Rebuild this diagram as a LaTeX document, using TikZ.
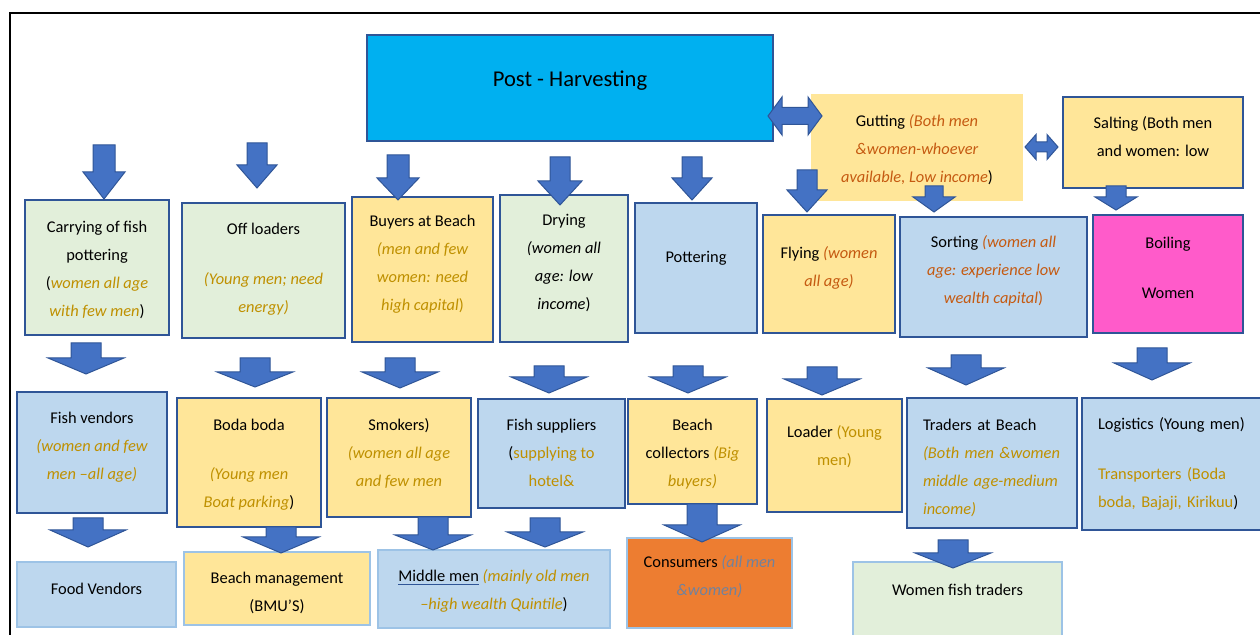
\documentclass[tikz,border=0pt]{standalone}
\usepackage{fontspec}
\setmainfont{Carlito}
\usepackage{tikz}
\usetikzlibrary{fit}

\definecolor{edgeblue}{HTML}{2F5597}
\definecolor{arrowblue}{HTML}{4472C4}
\definecolor{cyanfill}{HTML}{00B0F0}
\definecolor{greenfill}{HTML}{E2EFDA}
\definecolor{bluefill}{HTML}{BDD7EE}
\definecolor{yellowfill}{HTML}{FFE699}
\definecolor{pinkfill}{HTML}{FF5BCA}
\definecolor{orangefill}{HTML}{ED7D31}
\definecolor{lightedge}{HTML}{9DC3E6}
\definecolor{gold}{HTML}{BF9000}
\definecolor{rust}{HTML}{C55A11}
\definecolor{slate}{HTML}{71829D}

% text colours used in the boxes
\newcommand{\gi}[1]{{\itshape\color{gold}#1}}
\newcommand{\gu}[1]{{\color{gold}#1}}
\newcommand{\ri}[1]{{\itshape\color{rust}#1}}
\newcommand{\si}[1]{{\itshape\color{slate}#1}}
\newcommand{\ul}[1]{{\color{edgeblue}\underline{\color{black}#1}}}
% nudging text inside a box
\newcommand{\dn}[1]{\mbox{}\\[#1]}
\newcommand{\rise}[2]{\raisebox{#1}[\height][\depth]{#2}}

% block arrows: x, top, head start, tip, shaft width, head width
\newcommand{\dnblock}[6]{\filldraw[blockarrow] ({#1-#5/2},#2) -- ({#1+#5/2},#2) -- ({#1+#5/2},#3) -- ({#1+#6/2},#3) -- (#1,#4) -- ({#1-#6/2},#3) -- ({#1-#5/2},#3) -- cycle;}
% left, right, mid y, shaft height, head height, head length
\newcommand{\lrblock}[6]{\filldraw[blockarrow] (#1,#3) -- ({#1+#6},{#3-#5/2}) -- ({#1+#6},{#3-#4/2}) -- ({#2-#6},{#3-#4/2}) -- ({#2-#6},{#3-#5/2}) -- (#2,#3) -- ({#2-#6},{#3+#5/2}) -- ({#2-#6},{#3+#4/2}) -- ({#1+#6},{#3+#4/2}) -- ({#1+#6},{#3+#5/2}) -- cycle;}

\begin{document}
\begin{tikzpicture}[x=0.5pt, y=-0.5pt, font=\fontsize{8.2}{14}\selectfont,
  cell/.style={draw=edgeblue, line width=1.4pt, inner sep=0pt, align=center},
  softcell/.style={draw=lightedge, line width=0.8pt, inner sep=0pt, align=center},
  leftcell/.style={cell, inner xsep=8pt},
  blockarrow/.style={fill=arrowblue, draw=edgeblue, line width=0.5pt}]
  \useasboundingbox (0,0) rectangle (1260,635);
  \clip (0,0) rectangle (1260,635);
  \draw[line width=1pt] (10,13) rectangle (1280,650);

  % top
  \node[cell, fill=cyanfill, fit={(367,35)(773,141)}, font=\fontsize{11.3}{14}\selectfont] (post) {Post - Harvesting};
  \node[cell, draw=yellowfill, fill=yellowfill, fit={(812,95)(1022,200)}] (gutting) {\dn{-6pt}Gutting \ri{(Both men}\\\ri{\&women-whoever}\\\ri{available, Low income})};
  \node[cell, fill=yellowfill, fit={(1063,97)(1243,188)}] (salting) {Salting (Both men\\and women: low};

  % first row
  \node[cell, fill=greenfill, fit={(25,200)(169,335)}] (carry) {\dn{-6pt}Carrying of fish\\pottering\\(\gi{women all age}\\\gi{with few men})};
  \node[cell, fill=greenfill, fit={(182,203)(345,338)}] (offload) {\dn{-10pt}Off loaders\\[11pt]\gi{(Young men; need}\\\gi{energy)}};
  \node[cell, fill=yellowfill, fit={(352,197)(493,342)}] (buyers) {Buyers at Beach\\\gi{(men and few}\\\gi{women: need}\\\gi{high capital}\gu{)}};
  \node[cell, fill=greenfill, fit={(500,195)(628,342)}] (drying) {Drying\\\textit{(women all}\\\textit{age: low}\\\textit{income})};
  \node[cell, fill=bluefill, fit={(635,203)(757,333)}] (pottering) {\rise{2pt}{Pottering}};
  \node[cell, fill=yellowfill, fit={(763,215)(895,333)}] (flying) {Flying \ri{(women}\\\ri{all age)}};
  \node[cell, fill=bluefill, fit={(900,217)(1087,337)}] (sorting) {Sorting \ri{(women all}\\\ri{age: experience low}\\\ri{wealth capital}{\color{rust})}};
  \node[cell, fill=pinkfill, fit={(1093,215)(1243,333)}] (boiling) {Boiling\\[11pt]Women};

  % second row
  \node[cell, fill=bluefill, fit={(17,392)(167,513)}] (fishvend) {Fish vendors\\\gi{(women and few}\\\gi{men –all age)}};
  \node[cell, fill=yellowfill, fit={(177,398)(321,527)}] (boda) {\dn{-6pt}Boda boda\\[10.5pt]\gi{(Young men}\\\gi{Boat parking})};
  \node[cell, fill=yellowfill, fit={(327,398)(471,517)}] (smokers) {\dn{-12pt}Smokers)\\\gi{(women all age}\\\gi{and few men}};
  \node[cell, fill=bluefill, fit={(478,399)(625,508)}] (suppliers) {\dn{-9pt}Fish suppliers\\(\gu{supplying to}\\\gu{hotel\&}};
  \node[cell, fill=yellowfill, fit={(628,399)(757,504)}] (collectors) {\dn{-6pt}Beach\\collectors \gi{(Big}\\\gi{buyers)}};
  \node[cell, fill=yellowfill, fit={(767,399)(902,512)}] (loader) {\rise{1.5pt}{Loader \gu{(Young}}\\\rise{1.5pt}{\gu{men)}}};
  \node[leftcell, fill=bluefill, fit={(923,398)(1061,528)}, align=left] (traders) {\dn{-3pt}Traders at Beach\\\gi{(Both men \&women}\\\gi{middle age-medium}\\\gi{income)}};
  \node[leftcell, fill=bluefill, fit={(1098,398)(1252,530)}, align=left] (logistics) {\dn{-8pt}Logistics (Young men)\\[11pt]\gu{Transporters (Boda}\\\gu{boda, Bajaji, Kirikuu})};

  % third row
  \node[softcell, fill=bluefill, fit={(17,562)(176,627)}] (foodvend) {Food Vendors};
  \node[softcell, fill=yellowfill, fit={(184,552)(370,625)}] (bmu) {\dn{-4pt}Beach management\\(BMU’S)};
  \node[softcell, fill=bluefill, fit={(378,550)(610,628)}] (middlemen) {\dn{-6.5pt}\ul{Middle men} \gi{(mainly old men}\\\gi{–high wealth Quintile})};
  \node[softcell, fill=orangefill, fit={(627,538)(792,628)}] (consumers) {Consumers \si{(all men}\\\si{\&women)}};
  \node[softcell, fill=greenfill, fit={(853,562)(1062,645)}] (womentraders) {\rise{4pt}{Women fish traders}};

  % arrows
  \lrblock{768}{822}{116}{17}{38}{14}
  \lrblock{1025}{1058}{147}{10}{25}{11}

  \dnblock{104}{145}{172}{199}{22}{42}
  \dnblock{257}{143}{165}{188}{20}{40}
  \dnblock{398}{155}{178}{200}{22}{42}
  \dnblock{560}{157}{181}{205}{20}{44}
  \dnblock{692}{157}{178}{200}{20}{40}
  \dnblock{807}{170}{190}{212}{20}{40}
  \dnblock{934}{186}{197}{212}{18}{42}
  \dnblock{1116}{186}{197}{210}{20}{42}

  \dnblock{86}{343}{358}{374}{30}{76}
  \dnblock{255}{358}{372}{387}{30}{76}
  \dnblock{400}{358}{372}{388}{30}{76}
  \dnblock{549}{366}{377}{393}{30}{76}
  \dnblock{688}{366}{377}{393}{30}{76}
  \dnblock{822}{367}{379}{395}{30}{76}
  \dnblock{966}{355}{368}{385}{30}{76}
  \dnblock{1152}{348}{363}{380}{30}{76}

  \dnblock{88}{518}{530}{547}{30}{76}
  \dnblock{281}{527}{537}{553}{30}{76}
  \dnblock{433}{517}{535}{550}{30}{76}
  \dnblock{545}{518}{532}{547}{30}{76}
  \dnblock{702}{504}{525}{542}{30}{76}
  \dnblock{953}{540}{553}{568}{30}{76}
\end{tikzpicture}
\end{document}
